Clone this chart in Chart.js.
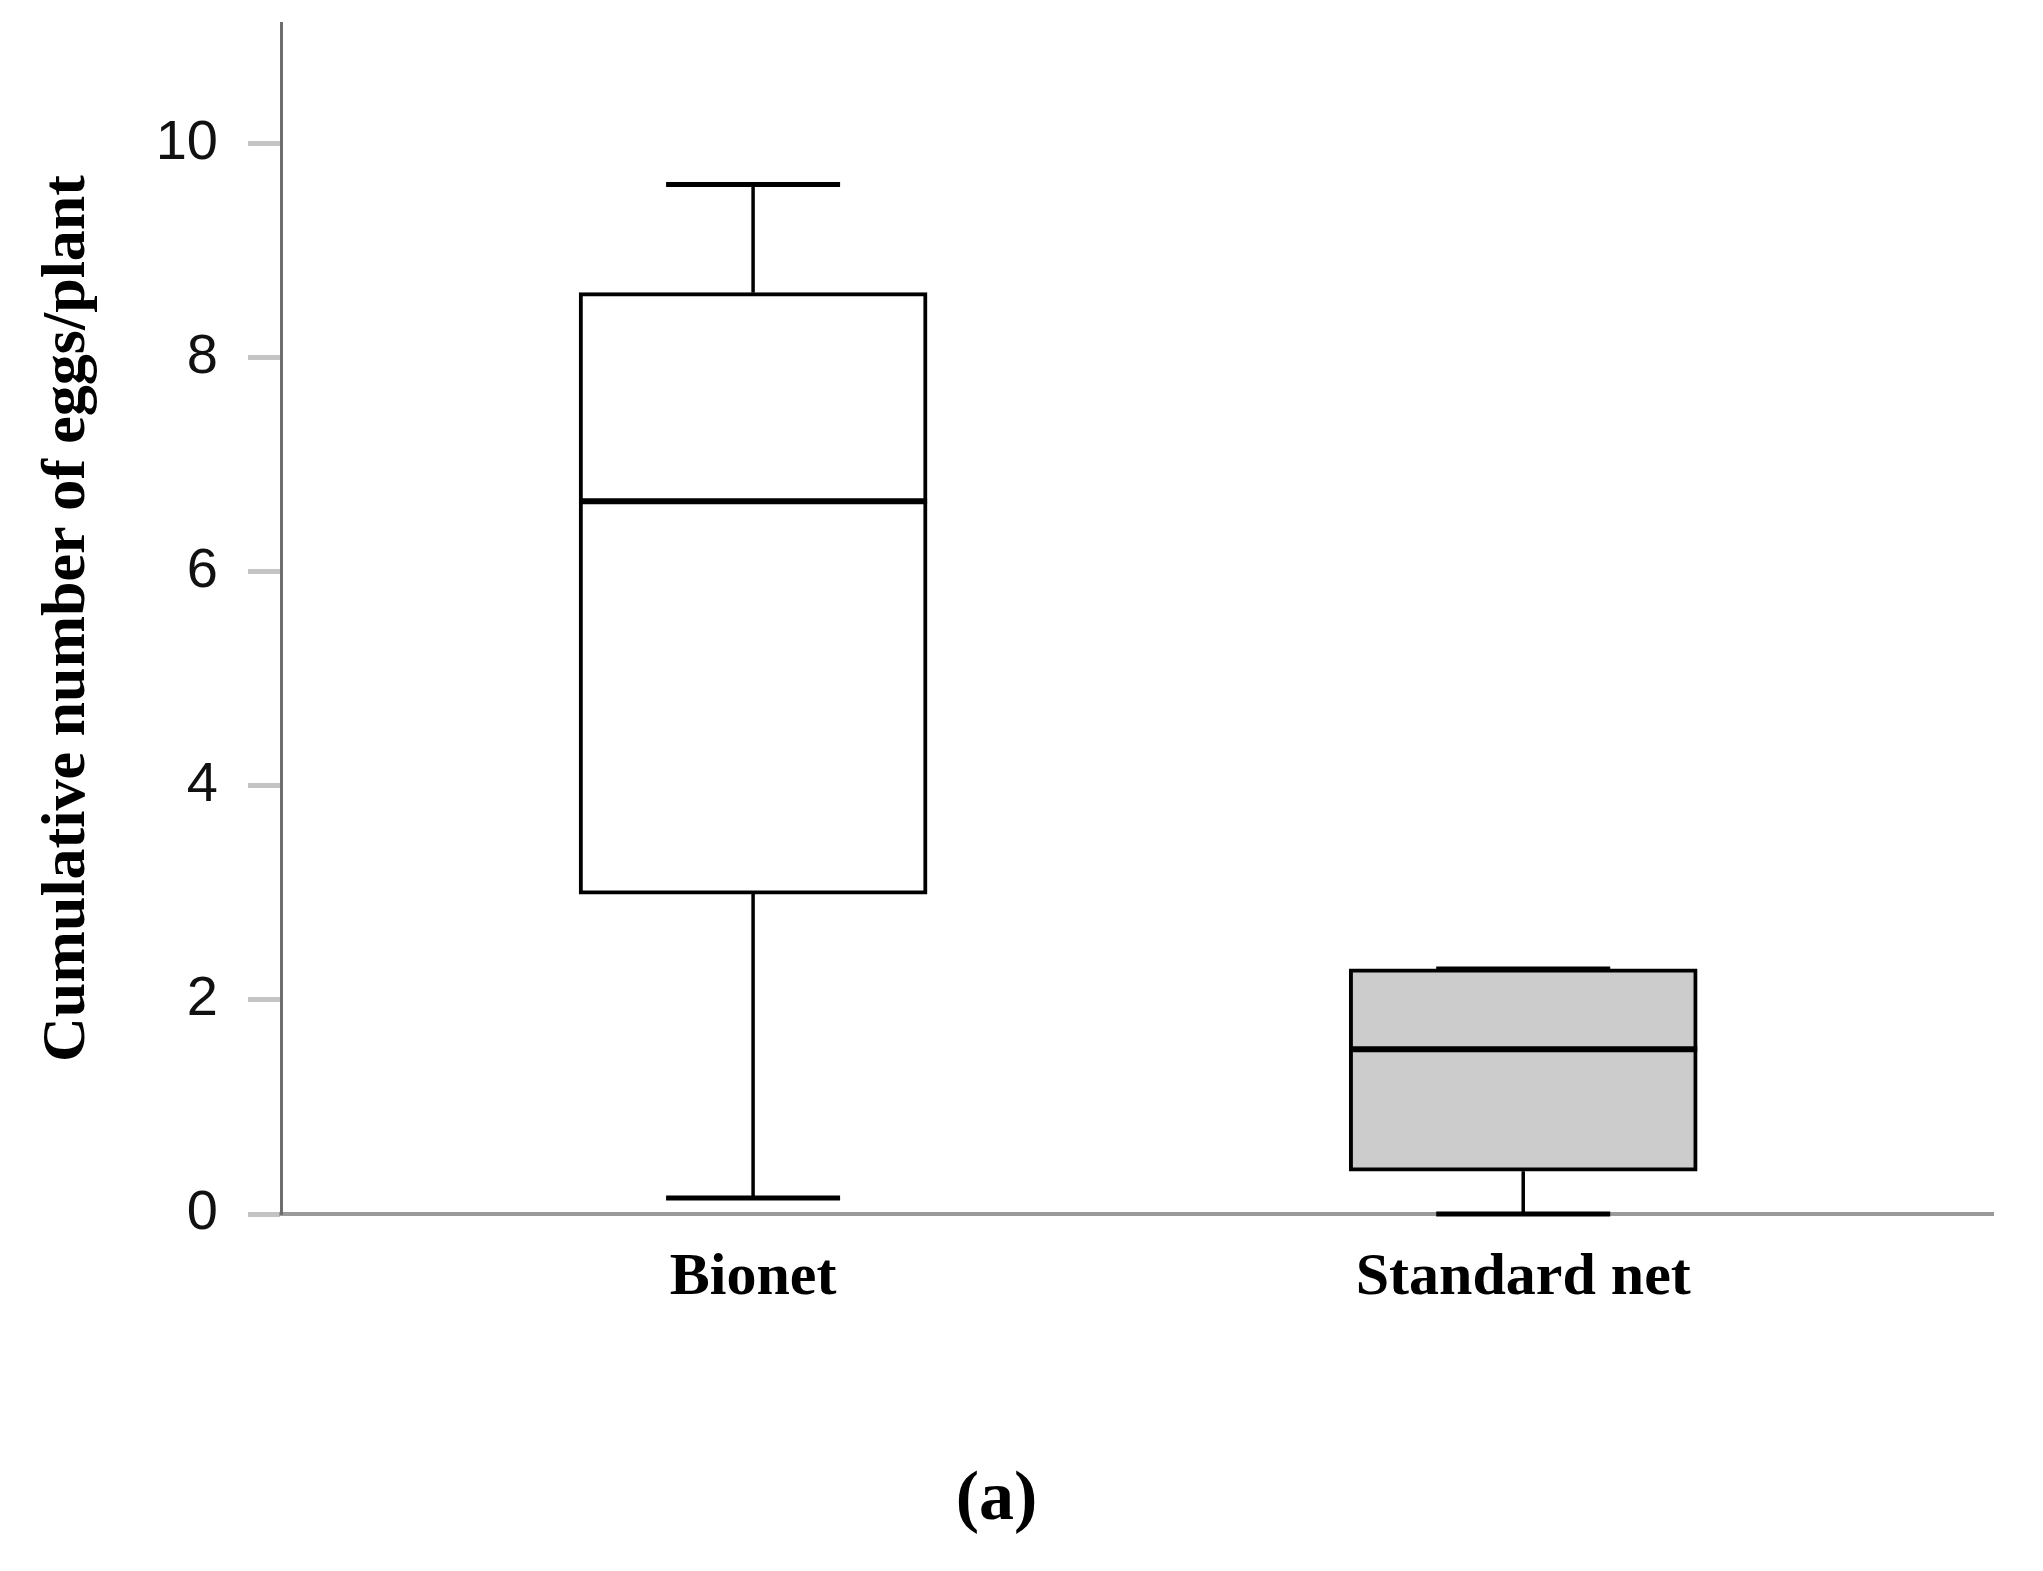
<!DOCTYPE html>
<html>
<head>
<meta charset="utf-8">
<script src="https://cdn.jsdelivr.net/npm/chart.js@4.4.1/dist/chart.umd.min.js"></script>
<style>
  html, body { margin: 0; padding: 0; background: #fff; }
  canvas { display: block; }
</style>
</head>
<body>
<canvas id="boxChart" width="2043" height="1571"></canvas>
<script>
// box plot values
const categories = ['Bionet', 'Standard net'];
const whiskerMin = [0.15, 0.0];
const q1 = [2.99, 0.40];
const median = [6.66, 1.54];
const q3 = [8.61, 2.29];
const whiskerMax = [9.62, 2.29];
const boxFill = ['#ffffff', '#cccccc'];
const yTicks = [0, 2, 4, 6, 8, 10];

// whiskers, caps and medians drawn on top of the floating bars
const boxPlotLines = {
    id: 'boxPlotLines',
    afterDatasetsDraw(chart) {
        const { ctx, scales: { x, y } } = chart;
        const bars = chart.getDatasetMeta(0).data;

        function line(x1, y1, x2, y2) {
            ctx.beginPath();
            ctx.moveTo(x1, y1);
            ctx.lineTo(x2, y2);
            ctx.stroke();
        }

        ctx.save();
        ctx.strokeStyle = '#000';
        ctx.lineCap = 'butt';
        categories.forEach((c, i) => {
            const cx = x.getPixelForValue(i);
            const half = bars[i].width / 2;
            const cap = bars[i].width / 4;

            ctx.lineWidth = 3.5;
            line(cx, y.getPixelForValue(q3[i]), cx, y.getPixelForValue(whiskerMax[i]));
            line(cx, y.getPixelForValue(q1[i]), cx, y.getPixelForValue(whiskerMin[i]));

            ctx.lineWidth = 5;
            line(cx - cap, y.getPixelForValue(whiskerMax[i]), cx + cap, y.getPixelForValue(whiskerMax[i]));
            line(cx - cap, y.getPixelForValue(whiskerMin[i]), cx + cap, y.getPixelForValue(whiskerMin[i]));

            ctx.lineWidth = 6;
            line(cx - half, y.getPixelForValue(median[i]), cx + half, y.getPixelForValue(median[i]));
        });
        ctx.restore();
    }
};

new Chart(document.getElementById('boxChart'), {
    type: 'bar',
    data: {
        datasets: [{
            data: categories.map((c, i) => ({ x: i, y: [q1[i], q3[i]] })),
            backgroundColor: boxFill,
            borderColor: '#000',
            borderWidth: 4,
            borderSkipped: false,
            barThickness: 348
        }]
    },
    options: {
        responsive: false,
        animation: false,
        devicePixelRatio: 1,
        layout: {
            padding: { top: 23, right: 50, bottom: 0, left: 0 }
        },
        plugins: {
            legend: { display: false },
            tooltip: { enabled: false },
            title: {
                display: true,
                position: 'bottom',
                text: '(a)',
                color: '#000',
                font: { family: "'Liberation Serif', serif", size: 70, weight: 'bold', lineHeight: 1.2 },
                padding: { top: 0, bottom: 28 }
            }
        },
        scales: {
            x: {
                type: 'linear',
                offset: false,
                min: -0.613,
                max: 1.61,
                afterBuildTicks: (scale) => {
                    scale.ticks = categories.map((c, i) => ({ value: i }));
                },
                afterFit: (scale) => {
                    scale.height = 245;
                    scale.paddingLeft = 0;
                    scale.paddingRight = 0;
                },
                ticks: {
                    callback: (value) => categories[value],
                    color: '#000',
                    font: { family: "'Liberation Serif', serif", size: 60, weight: 'bold' },
                    padding: 20,
                    maxRotation: 0,
                    autoSkip: false
                },
                grid: { display: false },
                border: { display: true, color: '#9a9a9a', width: 4 }
            },
            y: {
                min: 0,
                max: 11.13,
                afterBuildTicks: (scale) => {
                    scale.ticks = yTicks.map(v => ({ value: v }));
                },
                afterFit: (scale) => {
                    scale.width = 281;
                    scale.paddingTop = 0;
                    scale.paddingBottom = 0;
                },
                ticks: {
                    color: '#111',
                    font: { family: "'Liberation Sans', sans-serif", size: 56 },
                    padding: 30
                },
                grid: {
                    drawOnChartArea: false,
                    drawTicks: true,
                    tickLength: 33,
                    tickColor: '#c4c4c4',
                    tickWidth: 5
                },
                border: { display: true, color: '#6e6e6e', width: 3 },
                title: {
                    display: true,
                    text: 'Cumulative number of eggs/plant',
                    color: '#000',
                    font: { family: "'Liberation Serif', serif", size: 62, weight: 'bold', lineHeight: 1.2 },
                    padding: { top: 31, bottom: 0 }
                }
            }
        }
    },
    plugins: [boxPlotLines]
});
</script>
</body>
</html>
